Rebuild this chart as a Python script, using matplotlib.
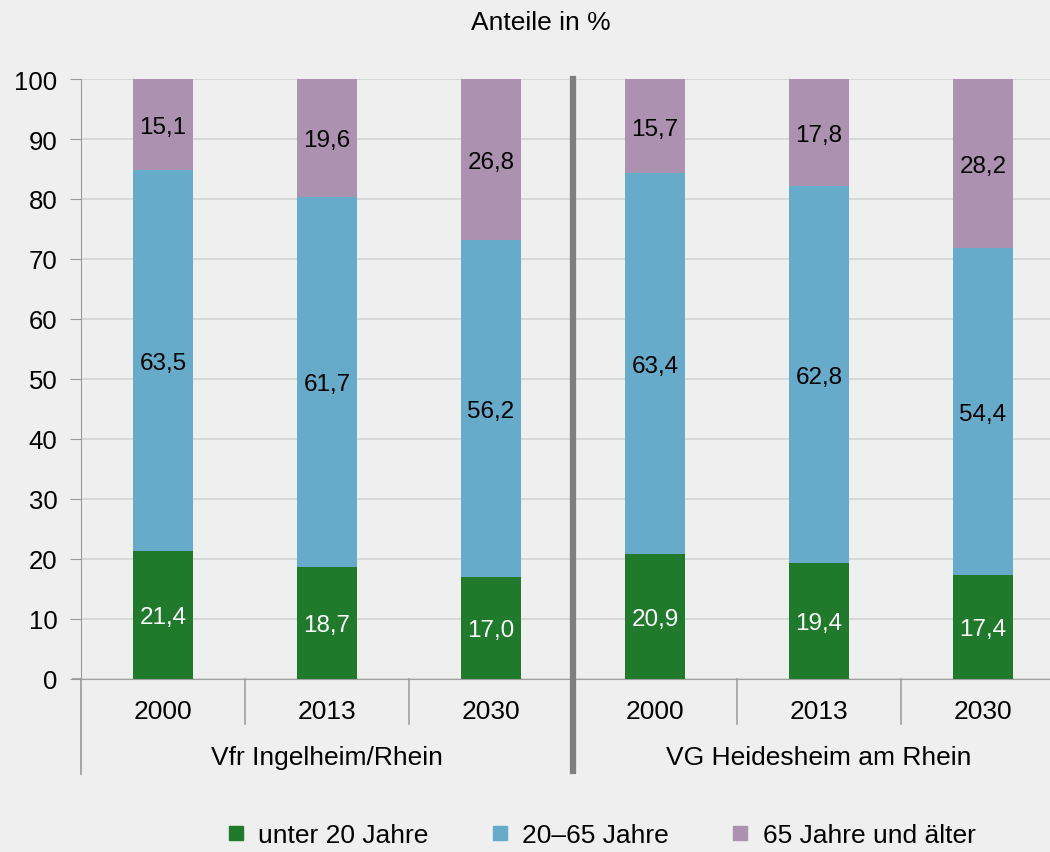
import matplotlib.pyplot as plt
from matplotlib.lines import Line2D

plt.rcParams['font.family'] = ['Liberation Sans', 'DejaVu Sans']

# Daten
jahre = ['2000', '2013', '2030', '2000', '2013', '2030']
gruppen = ['Vfr Ingelheim/Rhein', 'VG Heidesheim am Rhein']
unter20 = [21.4, 18.7, 17.0, 20.9, 19.4, 17.4]
mitte = [63.5, 61.7, 56.2, 63.4, 62.8, 54.4]
ueber65 = [15.1, 19.6, 26.8, 15.7, 17.8, 28.2]
serien = ['unter 20 Jahre', '20–65 Jahre', '65 Jahre und älter']

farben = ['#1f7a2b', '#66abc9', '#ad91b0']
bg = '#eeefee'

fig = plt.figure(figsize=(10.5, 8.53), dpi=100, facecolor=bg)
ax = fig.add_axes([81 / 1050, 1 - 680 / 853, 1 - 81 / 1050, 600 / 853])
ax.set_facecolor(bg)

x = list(range(len(jahre)))
breite = 0.37
unten = [0] * len(x)
for werte, farbe, name in zip([unter20, mitte, ueber65], farben, serien):
    ax.bar(x, werte, breite, bottom=unten, color=farbe, zorder=3, label=name)
    for i, w in enumerate(werte):
        txtfarbe = 'white' if farbe == farben[0] else 'black'
        ax.text(i, unten[i] + w / 2, f'{w:.1f}'.replace('.', ','), ha='center',
                va='center_baseline', fontsize=17.5, color=txtfarbe, zorder=4)
    unten = [u + w for u, w in zip(unten, werte)]

ax.set_ylim(0, 100)
ax.set_xlim(-0.5, -0.5 + (1050 - 81) / 164)
ax.set_yticks(range(0, 101, 10))
ax.tick_params(axis='y', labelsize=18.5, length=8, color='#999999', pad=9)
ax.set_xticks([])
ax.grid(axis='y', color='#d3d5d4', linewidth=1.2, zorder=0)

for s in ['top', 'right']:
    ax.spines[s].set_visible(False)
ax.spines['left'].set_color('#999999')
ax.spines['bottom'].set_color('#a0a0a0')
ax.spines['left'].set_bounds(0, 100)

tr = ax.get_xaxis_transform()
# Jahresbeschriftung und Trennstriche
for i, j in enumerate(jahre):
    ax.text(i, -32 / 600, j, transform=tr, ha='center', va='center', fontsize=19)
for xs in [0.5, 1.5, 3.5, 4.5]:
    ax.plot([xs, xs], [0, -45 / 600], transform=tr, color='#a0a0a0', lw=1.2, clip_on=False)
ax.plot([-0.5, -0.5], [0, -95 / 600], transform=tr, color='#999999', lw=1.2, clip_on=False)
# Trennlinie zwischen den Gruppen
ax.plot([2.5, 2.5], [1, -92 / 600], transform=tr, color='#7f7f7f', lw=4.5, clip_on=False, zorder=5)
ax.plot([-0.5, -0.5 - 8 / 164], [0, 0], transform=tr, color='#999999', lw=1.2, clip_on=False)

for k, g in enumerate(gruppen):
    ax.text(1 + 3 * k, -78 / 600, g, transform=tr, ha='center', va='center', fontsize=19)

fig.text(541 / 1050, 1 - 23 / 853, 'Anteile in %', ha='center', va='center', fontsize=19)

handles = [Line2D([], [], marker='s', linestyle='', markersize=10, color=f) for f in farben]
fig.legend(handles, serien, loc='center', bbox_to_anchor=(601 / 1050, 1 - 836 / 853), ncol=3,
           frameon=False, fontsize=19, handlelength=0.7, handletextpad=0.5, columnspacing=2.35)

plt.savefig('out.png', dpi=100, facecolor=bg)
